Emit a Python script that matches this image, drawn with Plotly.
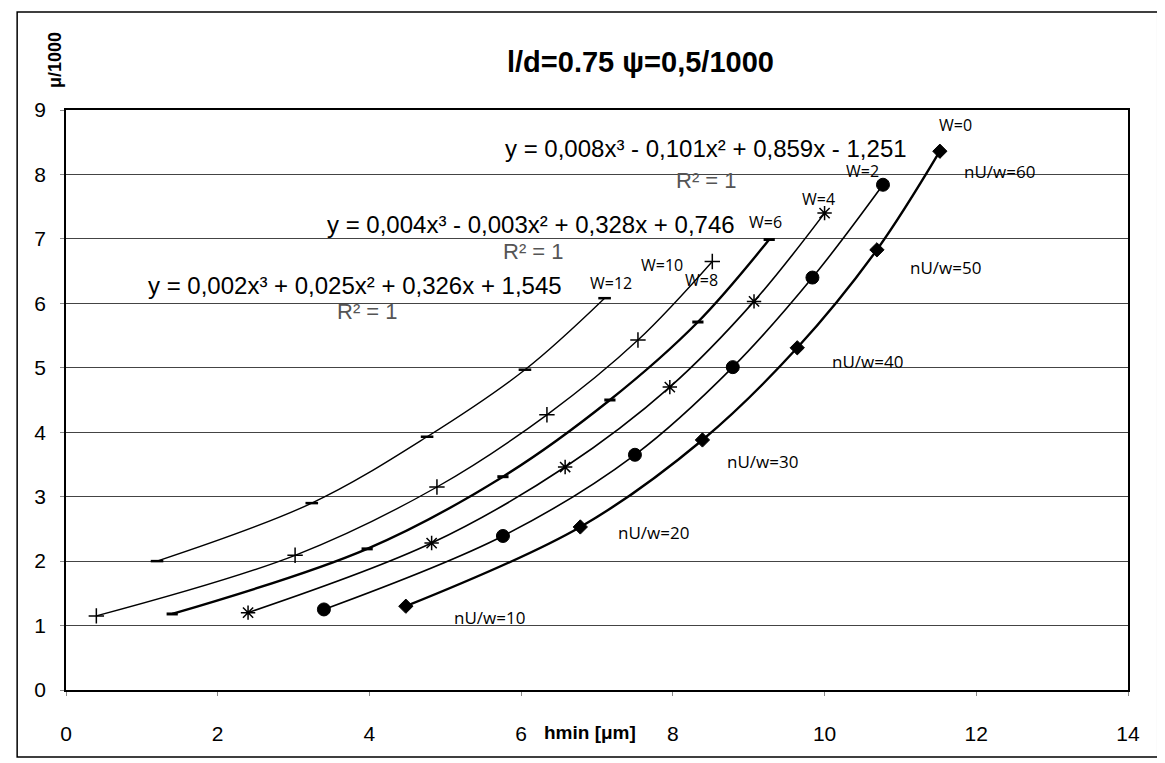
import plotly.graph_objects as go

# ---- data ----
w12_x = [1.2, 3.24, 4.76, 6.05, 7.1]
w12_y = [2.0, 2.9, 3.93, 4.97, 6.08]
w10_x = [0.4, 3.02, 4.89, 6.34, 7.54, 8.52]
w10_y = [1.15, 2.09, 3.15, 4.27, 5.43, 6.65]
w6_x = [1.4, 3.97, 5.76, 7.17, 8.33, 9.27]
w6_y = [1.18, 2.19, 3.31, 4.5, 5.71, 6.99]
w4_x = [2.4, 4.82, 6.58, 7.96, 9.07, 10.0]
w4_y = [1.2, 2.28, 3.46, 4.7, 6.03, 7.4]
w2_x = [3.4, 5.76, 7.5, 8.79, 9.84, 10.77]
w2_y = [1.25, 2.39, 3.65, 5.01, 6.4, 7.84]
w0_x = [4.48, 6.78, 8.39, 9.64, 10.69, 11.52]
w0_y = [1.3, 2.53, 3.88, 5.31, 6.83, 8.36]

x_ticks = [0, 2, 4, 6, 8, 10, 12, 14]
y_ticks = [0, 1, 2, 3, 4, 5, 6, 7, 8, 9]

w_labels = ["W=0", "W=2", "W=4", "W=6", "W=10", "W=8", "W=12"]
w_label_x = [11.72, 10.5, 9.92, 9.22, 7.86, 8.38, 7.18]
w_label_y = [8.76, 8.06, 7.62, 7.26, 6.6, 6.36, 6.32]

nu_labels = ["nU/w=10", "nU/w=20", "nU/w=30", "nU/w=40", "nU/w=50", "nU/w=60"]
nu_label_x = [5.58, 7.75, 9.18, 10.57, 11.6, 12.3]
nu_label_y = [1.13, 2.45, 3.55, 5.09, 6.55, 8.04]

equations = ["y = 0,008x³ - 0,101x² + 0,859x - 1,251",
             "y = 0,004x³ - 0,003x² + 0,328x + 0,746",
             "y = 0,002x³ + 0,025x² + 0,326x + 1,545"]
eq_x = [8.44, 6.13, 3.81]
eq_y = [8.4, 7.22, 6.28]
r2_x = [8.45, 6.16, 3.97]
r2_y = [7.91, 6.8, 5.87]

FONT = "Liberation Sans, Arial, sans-serif"
LBL_FONT = "Open Sans, sans-serif"

fig = go.Figure()

def add(xs, ys, symbol, size, lw, mlw=1.5):
    fig.add_trace(go.Scatter(
        x=xs, y=ys, mode="lines+markers",
        line=dict(color="black", width=lw, shape="spline", smoothing=1.0),
        marker=dict(symbol=symbol, size=size, color="black",
                    line=dict(color="black", width=mlw)),
        showlegend=False, hoverinfo="x+y"))

add(w12_x, w12_y, "line-ew-open", 9, 1.4, 2.5)
add(w10_x, w10_y, "cross-thin-open", 11, 1.4, 1.5)
add(w6_x, w6_y, "line-ew-open", 8, 2.4, 3)
add(w4_x, w4_y, "asterisk-open", 12, 1.6, 1.5)
add(w2_x, w2_y, "circle", 13, 1.6, 1)
add(w0_x, w0_y, "diamond", 11, 2.4, 1)

C = dict(xanchor="center", yanchor="middle", showarrow=False)
ann = []
for t, x, y in zip(w_labels, w_label_x, w_label_y):
    ann.append(dict(x=x, y=y, xref="x", yref="y", text=t, **C,
                    font=dict(family=LBL_FONT, size=16, color="black")))
for t, x, y in zip(nu_labels, nu_label_x, nu_label_y):
    ann.append(dict(x=x, y=y, xref="x", yref="y", text=t, **C,
                    font=dict(family=LBL_FONT, size=17, color="black")))
for t, x, y in zip(equations, eq_x, eq_y):
    ann.append(dict(x=x, y=y, xref="x", yref="y", text=t, **C,
                    font=dict(family=FONT, size=24, color="black")))
for x, y in zip(r2_x, r2_y):
    ann.append(dict(x=x, y=y, xref="x", yref="y", text="R² = 1", **C,
                    font=dict(family=FONT, size=22, color="#555555")))

# title, axis titles
ann.append(dict(x=0.5405, y=1.083, xref="paper", yref="paper",
                text="<b>l/d=0.75 ψ=0,5/1000</b>", **C,
                font=dict(family=FONT, size=29, color="black")))
ann.append(dict(x=-0.0104, y=1.086, xref="paper", yref="paper",
                text="<b>μ/1000</b>", textangle=-90, **C,
                font=dict(family=FONT, size=18, color="black")))
ann.append(dict(x=0.4934, y=-0.074, xref="paper", yref="paper",
                text="<b>hmin [μm]</b>", **C,
                font=dict(family=FONT, size=19, color="black")))

# page has an 8px body margin: size/margins chosen so the plot area lands
# at x 66..1128, y 110..690 in the 1165x763 window
fig.update_layout(
    width=1157, height=755,
    margin=dict(l=58, r=37, t=102, b=73),
    paper_bgcolor="white", plot_bgcolor="white",
    annotations=ann,
    shapes=[dict(type="rect", xref="paper", yref="paper",
                 x0=-0.046, x1=1.028, y0=-0.1155, y1=1.169,
                 line=dict(color="black", width=1.5), fillcolor="rgba(0,0,0,0)",
                 layer="below")],
    xaxis=dict(range=[0, 14], tickvals=x_ticks, ticktext=[str(v) for v in x_ticks],
               showgrid=False, zeroline=False, showline=True, linecolor="black",
               linewidth=1.5, mirror=True, ticks="outside", ticklen=4,
               tickcolor="#888", ticklabelstandoff=20,
               tickfont=dict(family=FONT, size=21, color="black")),
    yaxis=dict(range=[0, 9], tickvals=y_ticks, ticktext=[str(v) for v in y_ticks],
               showgrid=True, gridcolor="#444444", gridwidth=1, zeroline=False,
               showline=True, linecolor="black", linewidth=1.5, mirror=True,
               ticks="outside", ticklen=4, tickcolor="#888", ticklabelstandoff=10,
               tickfont=dict(family=FONT, size=21, color="black")),
)

fig.write_html("out.html")
